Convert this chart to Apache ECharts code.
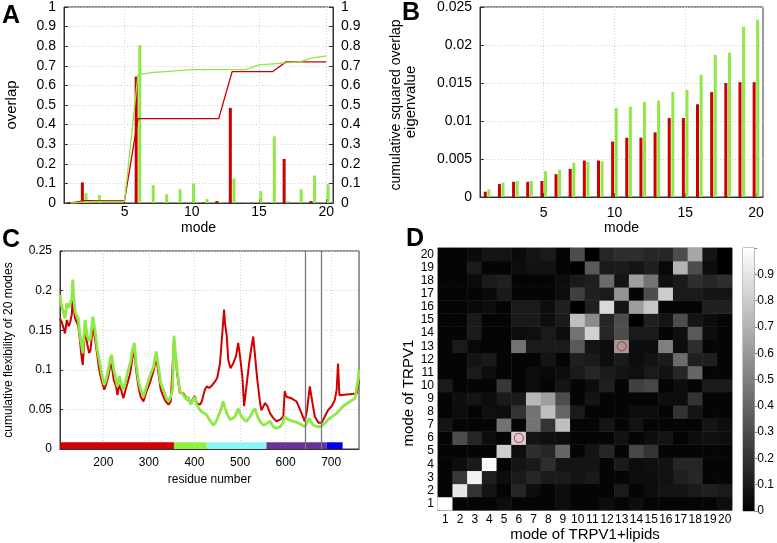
<!DOCTYPE html>
<html><head><meta charset="utf-8">
<script src="https://cdn.jsdelivr.net/npm/echarts@6/dist/echarts.min.js"></script>
<style>html,body{margin:0;padding:0;background:#fff}#c{width:777px;height:543px}</style>
</head><body><div id="c"></div>
<script>
// ---------- data ----------
const modes = [1,2,3,4,5,6,7,8,9,10,11,12,13,14,15,16,17,18,19,20];
const overlapRed   = [0.005,0.105,0,0,0,0.645,0,0,0,0,0.003,0.01,0.485,0,0,0,0.225,0,0.01,0];
const overlapGreen = [0.005,0.05,0.04,0,0,0.805,0.09,0.045,0.07,0.10,0.02,0.005,0.125,0.003,0.06,0.34,0.01,0.07,0.14,0.095];
const cumRed   = [0,0.012,0.012,0.012,0.012,0.43,0.43,0.43,0.43,0.43,0.43,0.43,0.67,0.67,0.67,0.67,0.72,0.72,0.72,0.72];
const cumGreen = [0,0.005,0.008,0.008,0.008,0.655,0.665,0.67,0.675,0.68,0.68,0.68,0.68,0.68,0.705,0.71,0.715,0.72,0.74,0.75];
const eigRed   = [0.0007,0.0017,0.002,0.002,0.0021,0.003,0.0037,0.0048,0.0048,0.0073,0.0078,0.0078,0.0085,0.0104,0.0104,0.0122,0.0138,0.015,0.0151,0.0151];
const eigGreen = [0.001,0.0019,0.0021,0.0021,0.0034,0.0036,0.0045,0.0046,0.0047,0.0117,0.0119,0.0125,0.0127,0.0138,0.0141,0.0161,0.0187,0.019,0.0224,0.0233];
const flexRed = [[105,0.165],[109,0.160],[112,0.159],[116,0.146],[120,0.163],[124,0.155],[127,0.159],[131,0.170],[133,0.195],[135,0.178],[138,0.165],[142,0.160],[145,0.155],[149,0.136],[152,0.118],[155,0.106],[157,0.125],[160,0.151],[163,0.140],[165,0.132],[169,0.121],[172,0.125],[177,0.155],[182,0.138],[187,0.118],[191,0.100],[196,0.087],[202,0.075],[206,0.081],[211,0.092],[215,0.104],[218,0.108],[223,0.087],[228,0.079],[231,0.068],[235,0.081],[240,0.073],[244,0.064],[248,0.073],[253,0.083],[259,0.096],[264,0.115],[268,0.125],[272,0.100],[277,0.079],[282,0.066],[288,0.060],[295,0.073],[302,0.083],[310,0.098],[316,0.115],[321,0.096],[326,0.075],[332,0.066],[337,0.060],[343,0.056],[348,0.060],[352,0.062],[355,0.138],[359,0.113],[362,0.095],[368,0.071],[376,0.070],[383,0.064],[386,0.066],[392,0.058],[397,0.064],[401,0.067],[405,0.058],[412,0.056],[416,0.060],[419,0.058],[423,0.075],[427,0.079],[432,0.077],[438,0.080],[445,0.085],[450,0.090],[456,0.108],[460,0.138],[465,0.176],[467,0.159],[471,0.142],[474,0.113],[479,0.102],[485,0.108],[491,0.117],[496,0.134],[500,0.117],[505,0.092],[509,0.054],[514,0.079],[520,0.108],[524,0.125],[529,0.142],[533,0.117],[538,0.087],[544,0.058],[547,0.049],[555,0.058],[560,0.054],[566,0.045],[573,0.039],[580,0.035],[588,0.037],[595,0.041],[598,0.073],[602,0.066],[613,0.064],[624,0.060],[628,0.058],[635,0.045],[642,0.035],[647,0.049],[653,0.079],[659,0.058],[664,0.041],[672,0.033],[679,0.033],[686,0.041],[693,0.049],[701,0.054],[708,0.062],[712,0.075],[715,0.108],[718,0.068],[756,0.070],[761,0.087]];
const flexGreen = [[105,0.195],[108,0.182],[112,0.180],[116,0.165],[120,0.184],[124,0.178],[127,0.180],[131,0.190],[133,0.214],[135,0.192],[138,0.174],[142,0.168],[145,0.165],[149,0.142],[152,0.133],[155,0.121],[157,0.140],[160,0.163],[163,0.150],[165,0.142],[169,0.136],[172,0.140],[177,0.167],[182,0.149],[187,0.125],[191,0.113],[196,0.096],[202,0.081],[206,0.087],[211,0.100],[215,0.113],[218,0.119],[223,0.100],[228,0.087],[231,0.079],[235,0.092],[240,0.081],[244,0.075],[248,0.083],[253,0.096],[259,0.108],[264,0.125],[268,0.134],[272,0.108],[277,0.087],[282,0.075],[288,0.066],[295,0.079],[302,0.092],[310,0.104],[316,0.123],[321,0.104],[326,0.083],[332,0.075],[337,0.066],[343,0.060],[348,0.066],[352,0.075],[355,0.143],[359,0.117],[362,0.100],[368,0.073],[376,0.068],[383,0.062],[386,0.066],[392,0.056],[397,0.062],[401,0.066],[405,0.056],[412,0.049],[419,0.046],[427,0.043],[434,0.036],[441,0.030],[447,0.034],[452,0.041],[458,0.050],[463,0.060],[467,0.052],[471,0.045],[478,0.037],[484,0.039],[489,0.041],[496,0.051],[499,0.046],[503,0.041],[509,0.037],[514,0.035],[522,0.041],[528,0.047],[533,0.051],[536,0.045],[540,0.039],[546,0.033],[551,0.030],[558,0.032],[566,0.035],[573,0.028],[580,0.026],[588,0.028],[594,0.033],[598,0.041],[606,0.037],[617,0.035],[631,0.032],[642,0.028],[648,0.034],[652,0.039],[656,0.034],[661,0.030],[672,0.028],[679,0.029],[690,0.035],[697,0.039],[712,0.045],[726,0.054],[741,0.060],[752,0.064],[759,0.087],[761,0.100]];
const domainStart  = [105,355,427,558,690];
const domainEnd    = [355,427,558,690,725];
const domainColors = ['#d40000','#8ff03f','#8cf6f6','#663399','#0000ee'];
const markedResidues = [642,679];
// rows: mode of TRPV1 = 1..20 (bottom to top); columns: mode of TRPV1+lipids 1..20
const heatRows = [
 [1.0,0.02,0.02,0.02,0.05,0.02,0.02,0.02,0.05,0.02,0.02,0.05,0.02,0.05,0.02,0.02,0.02,0.02,0.02,0.05],
 [0.02,0.9,0.2,0.08,0.02,0.15,0.05,0.02,0.05,0.02,0.02,0.02,0.1,0.02,0.05,0.08,0.08,0.1,0.12,0.1],
 [0.02,0.22,0.95,0.12,0.05,0.1,0.15,0.1,0.1,0.08,0.1,0.02,0.02,0.05,0.05,0.07,0.12,0.15,0.02,0.02],
 [0.02,0.05,0.1,0.98,0.02,0.08,0.1,0.18,0.08,0.08,0.08,0.02,0.1,0.05,0.06,0.07,0.15,0.15,0.02,0.02],
 [0.02,0.02,0.02,0.02,0.8,0.05,0.18,0.15,0.4,0.02,0.08,0.15,0.02,0.28,0.2,0.02,0.02,0.02,0.02,0.02],
 [0.02,0.3,0.15,0.05,0.02,0.82,0.08,0.06,0.05,0.02,0.02,0.02,0.07,0.02,0.05,0.08,0.02,0.05,0.06,0.05],
 [0.08,0.02,0.02,0.02,0.45,0.02,0.45,0.2,0.75,0.02,0.02,0.08,0.02,0.07,0.02,0.02,0.02,0.02,0.08,0.05],
 [0.02,0.05,0.02,0.06,0.05,0.2,0.45,0.75,0.4,0.1,0.02,0.02,0.02,0.05,0.05,0.02,0.2,0.08,0.02,0.02],
 [0.02,0.06,0.08,0.05,0.1,0.1,0.72,0.62,0.3,0.02,0.08,0.02,0.02,0.02,0.02,0.06,0.05,0.2,0.02,0.02],
 [0.1,0.02,0.02,0.02,0.22,0.02,0.05,0.02,0.08,0.02,0.05,0.12,0.02,0.25,0.28,0.02,0.05,0.02,0.1,0.1],
 [0.02,0.02,0.1,0.05,0.02,0.02,0.05,0.03,0.05,0.1,0.15,0.1,0.08,0.06,0.1,0.07,0.15,0.4,0.02,0.02],
 [0.02,0.02,0.08,0.1,0.02,0.02,0.02,0.08,0.02,0.12,0.1,0.05,0.1,0.05,0.08,0.1,0.42,0.12,0.12,0.02],
 [0.02,0.1,0.03,0.02,0.02,0.45,0.1,0.1,0.1,0.35,0.08,0.05,0.62,0.05,0.05,0.5,0.05,0.18,0.02,0.02],
 [0.02,0.02,0.1,0.02,0.02,0.05,0.06,0.1,0.05,0.45,0.82,0.15,0.3,0.1,0.1,0.02,0.06,0.35,0.05,0.02],
 [0.02,0.02,0.1,0.02,0.02,0.1,0.1,0.05,0.1,0.75,0.55,0.15,0.3,0.0,0.12,0.08,0.3,0.08,0.05,0.02],
 [0.02,0.02,0.04,0.05,0.02,0.1,0.1,0.05,0.12,0.0,0.12,0.85,0.08,0.62,0.78,0.02,0.02,0.02,0.12,0.12],
 [0.02,0.02,0.02,0.04,0.1,0.02,0.02,0.02,0.05,0.25,0.12,0.1,0.58,0.02,0.3,0.8,0.1,0.1,0.08,0.08],
 [0.02,0.02,0.04,0.1,0.12,0.02,0.02,0.02,0.05,0.1,0.12,0.42,0.08,0.62,0.45,0.06,0.1,0.18,0.15,0.18],
 [0.02,0.02,0.1,0.02,0.02,0.05,0.07,0.07,0.02,0.0,0.35,0.1,0.1,0.08,0.12,0.03,0.7,0.3,0.05,0.0],
 [0.02,0.02,0.04,0.08,0.08,0.04,0.08,0.1,0.02,0.3,0.0,0.15,0.18,0.18,0.15,0.15,0.3,0.65,0.08,0.0]
];
const circledModes = [6,13];
const modeTicks = [5,10,15,20];
const residueTicks = [200,300,400,500,600,700];

// ---------- chart ----------
const FONT = '"Liberation Sans", Arial, sans-serif';
const RED = '#cc0000', GREEN = '#8fe845';
const gridLine = {show:true, lineStyle:{color:'#cfcfcf', type:[1,2], width:1}};
const axLine = {show:true, lineStyle:{color:'#333', width:1}};
const lbl = (size)=>({color:'#000', fontFamily:FONT, fontSize:size});
const nm = (size)=>({color:'#000', fontFamily:FONT, fontSize:size});
const catNames = modes.map(String);

const heatData = [];
heatRows.forEach((row, r) => row.forEach((v, c) => heatData.push([c, r, v])));

const chart = echarts.init(document.getElementById('c'), null, {renderer:'canvas'});
chart.setOption({
  animation:false,
  backgroundColor:'#fff',
  grid:[
    {left:64, top:5, width:269, height:198, show:true, borderColor:'#333', borderWidth:1, backgroundColor:'transparent'},
    {left:480, top:6, width:283, height:191, show:true, borderColor:'#333', borderWidth:1, backgroundColor:'transparent'},
    {left:60, top:251, width:299, height:198, show:true, borderColor:'#333', borderWidth:1, backgroundColor:'transparent'},
    {left:438, top:248, width:294, height:263, show:true, borderColor:'#888', borderWidth:1, backgroundColor:'transparent'},
    {left:743, top:248, width:15, height:263, show:true, borderColor:'#888', borderWidth:1, backgroundColor:'transparent'}
  ],
  xAxis:[
    {gridIndex:0, type:'value', min:0.5, max:20.5, name:'mode', nameLocation:'middle', nameGap:18, nameTextStyle:nm(14),
     axisLine:axLine, axisTick:{show:true, inside:true, length:4, customValues:modeTicks, lineStyle:{color:'#333'}},
     axisLabel:Object.assign({customValues:modeTicks, margin:2}, lbl(14)), splitLine:gridLine},
    {gridIndex:1, type:'value', min:0.5, max:20.5, name:'mode', nameLocation:'middle', nameGap:24, nameTextStyle:nm(14),
     axisLine:axLine, axisTick:{show:true, inside:true, length:4, customValues:modeTicks, lineStyle:{color:'#333'}},
     axisLabel:Object.assign({customValues:modeTicks, margin:9}, lbl(14)), splitLine:gridLine},
    {gridIndex:2, type:'value', min:105, max:761, name:'residue number', nameLocation:'middle', nameGap:25, nameTextStyle:nm(12),
     axisLine:axLine, axisTick:{show:true, inside:true, length:3, customValues:residueTicks, lineStyle:{color:'#333'}},
     axisLabel:Object.assign({customValues:residueTicks, margin:8}, lbl(12)), splitLine:gridLine},
    {gridIndex:3, type:'category', data:catNames, name:'mode of TRPV1+lipids', nameLocation:'middle', nameGap:11, nameTextStyle:nm(15),
     axisLine:{show:true, lineStyle:{color:'#888'}}, axisTick:{show:false},
     axisLabel:Object.assign({interval:0, margin:4}, lbl(12)), splitLine:{show:false}},
    {gridIndex:4, type:'category', data:['cb'], axisLine:{show:false}, axisTick:{show:false}, axisLabel:{show:false}, splitLine:{show:false}}
  ],
  yAxis:[
    {gridIndex:0, type:'value', min:0, max:1, interval:0.1, name:'overlap', nameLocation:'middle', nameGap:45, nameTextStyle:nm(15),
     axisLine:axLine, axisTick:{show:true, inside:true, length:4, lineStyle:{color:'#333'}}, axisLabel:Object.assign({margin:8}, lbl(14)), splitLine:gridLine},
    {gridIndex:0, type:'value', min:0, max:1, interval:0.1, position:'right', name:'cumulative squared overlap', nameLocation:'middle', nameGap:56, nameTextStyle:nm(14),
     axisLine:axLine, axisTick:{show:true, inside:true, length:4, lineStyle:{color:'#333'}}, axisLabel:Object.assign({margin:8}, lbl(14)), splitLine:{show:false}},
    {gridIndex:1, type:'value', min:0, max:0.025, interval:0.005, name:'eigenvalue', nameLocation:'middle', nameGap:62, nameTextStyle:nm(15),
     axisLine:axLine, axisTick:{show:true, inside:true, length:4, lineStyle:{color:'#333'}}, axisLabel:Object.assign({margin:8}, lbl(14)), splitLine:gridLine},
    {gridIndex:2, type:'value', min:0, max:0.25, interval:0.05, name:'cumulative flexibility of 20 modes', nameLocation:'middle', nameGap:45, nameTextStyle:nm(12),
     axisLine:axLine, axisTick:{show:true, inside:true, length:3, lineStyle:{color:'#333'}}, axisLabel:Object.assign({margin:8}, lbl(12)), splitLine:gridLine},
    {gridIndex:3, type:'category', data:catNames, name:'mode of TRPV1', nameLocation:'middle', nameGap:21, nameTextStyle:Object.assign({padding:[0,28,0,0]}, nm(15)),
     axisLine:{show:true, lineStyle:{color:'#888'}}, axisTick:{show:false},
     axisLabel:Object.assign({interval:0, margin:4}, lbl(12)), splitLine:{show:false}},
    {gridIndex:4, type:'value', min:0, max:1, interval:0.1, position:'right',
     axisLine:{show:false}, axisTick:{show:true, inside:false, length:3, lineStyle:{color:'#888'}},
     axisLabel:Object.assign({margin:3, formatter:(v)=> v>0.95 ? '' : String(Math.round(v*10)/10)}, lbl(12)), splitLine:{show:false}}
  ],
  visualMap:[{type:'continuous', show:false, min:0, max:1, seriesIndex:9, inRange:{color:['#000000','#ffffff']}}],
  series:[
    // A
    {type:'bar', xAxisIndex:0, yAxisIndex:0, barWidth:3, barGap:'20%', itemStyle:{color:RED}, data:modes.map((m,i)=>[m, overlapRed[i]])},
    {type:'bar', xAxisIndex:0, yAxisIndex:0, barWidth:3, barGap:'20%', itemStyle:{color:GREEN}, data:modes.map((m,i)=>[m, overlapGreen[i]])},
    {type:'line', xAxisIndex:0, yAxisIndex:1, showSymbol:false, lineStyle:{color:RED, width:1.3}, data:modes.map((m,i)=>[m, cumRed[i]])},
    {type:'line', xAxisIndex:0, yAxisIndex:1, showSymbol:false, lineStyle:{color:GREEN, width:1.3}, data:modes.map((m,i)=>[m, cumGreen[i]])},
    // B
    {type:'bar', xAxisIndex:1, yAxisIndex:2, barWidth:3, barGap:'20%', itemStyle:{color:RED}, data:modes.map((m,i)=>[m, eigRed[i]])},
    {type:'bar', xAxisIndex:1, yAxisIndex:2, barWidth:3, barGap:'20%', itemStyle:{color:GREEN}, data:modes.map((m,i)=>[m, eigGreen[i]])},
    // C
    {type:'line', xAxisIndex:2, yAxisIndex:3, showSymbol:false, lineStyle:{color:'#d00000', width:2}, data:flexRed,
     markLine:{silent:true, symbol:'none', label:{show:false}, lineStyle:{color:'#777', width:1.3, type:'solid'}, data:markedResidues.map(r=>({xAxis:r}))}},
    {type:'line', xAxisIndex:2, yAxisIndex:3, showSymbol:false, lineStyle:{color:GREEN, width:2.8}, data:flexGreen},
    {type:'line', xAxisIndex:2, yAxisIndex:3, showSymbol:false, data:[], lineStyle:{width:0},
     markArea:{silent:true, data:domainStart.map((s,i)=>[{xAxis:s, yAxis:0, itemStyle:{color:domainColors[i], opacity:1}},{xAxis:domainEnd[i], yAxis:0.0085}])}},
    // D
    {type:'heatmap', xAxisIndex:3, yAxisIndex:4, data:heatData, emphasis:{disabled:true}},
    {type:'scatter', xAxisIndex:3, yAxisIndex:4, symbol:'circle', symbolSize:9, silent:true,
     itemStyle:{color:'rgba(0,0,0,0)', borderColor:'#e02020', borderWidth:1.2}, data:circledModes.map(m=>[m-1, m-1])},
    // colorbar
    {type:'bar', xAxisIndex:4, yAxisIndex:5, barWidth:'100%', silent:true, data:[1],
     itemStyle:{color:{type:'linear', x:0, y:1, x2:0, y2:0, colorStops:[{offset:0, color:'#000'},{offset:1, color:'#fff'}]}}}
  ],
  graphic:[
    {type:'text', left:2, top:4, style:{text:'A', font:'bold 25px "Liberation Sans", Arial', fill:'#000'}},
    {type:'text', left:402, top:1, style:{text:'B', font:'bold 25px "Liberation Sans", Arial', fill:'#000'}},
    {type:'text', left:2, top:228, style:{text:'C', font:'bold 25px "Liberation Sans", Arial', fill:'#000'}},
    {type:'text', left:406, top:227, style:{text:'D', font:'bold 25px "Liberation Sans", Arial', fill:'#000'}}
  ]
});
</script></body></html>
